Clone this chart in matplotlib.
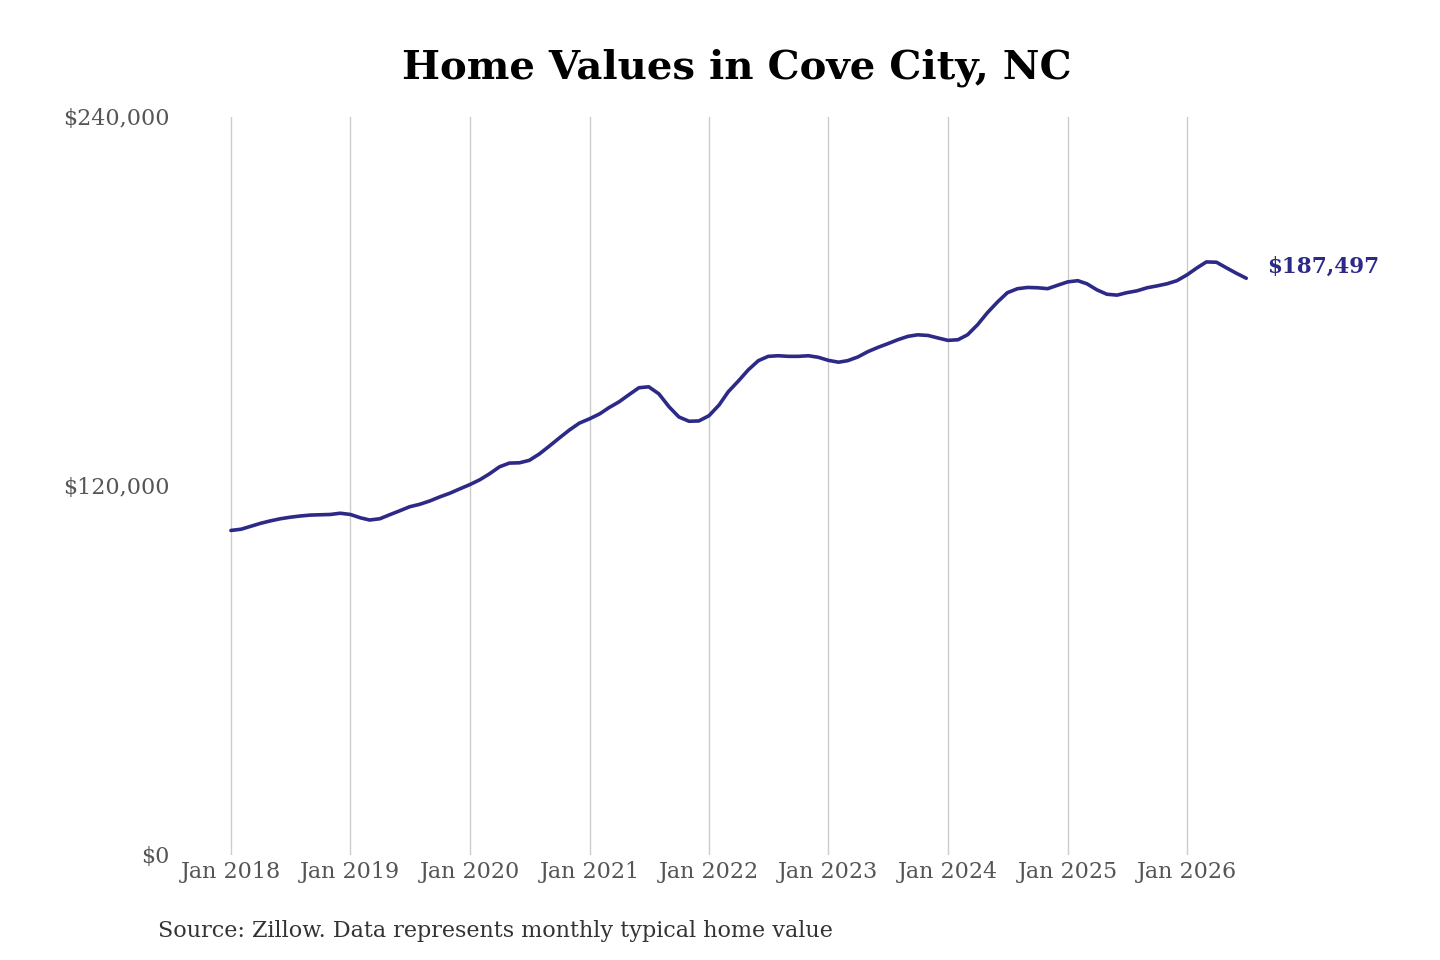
import matplotlib

matplotlib.use("Agg")

import matplotlib.dates as mdates
import matplotlib.pyplot as plt
import pandas as pd
from matplotlib.ticker import FuncFormatter

# monthly typical home value, Jan 2018 .. Jul 2026
home_values = [
    105500, 105900, 106800, 107800, 108600, 109300,
    109800, 110200, 110500, 110600, 110700, 111100,
    110700, 109600, 108900, 109300, 110600, 111900,
    113200, 114000, 115100, 116400, 117600, 119000,
    120400, 122000, 123900, 126200, 127400, 127500,
    128300, 130400, 133000, 135600, 138200, 140400,
    141800, 143400, 145400, 147300, 149600, 151900,
    152200, 149900, 145700, 142400, 141000, 141100,
    142800, 146300, 150600, 154100, 157700, 160700,
    162100, 162300, 162100, 162100, 162300, 161800,
    160800, 160200, 160700, 161900, 163600, 165000,
    166200, 167500, 168600, 169100, 168900, 168100,
    167300, 167500, 169100, 172400, 176300, 179800,
    182800, 184100, 184500, 184400, 184100, 185200,
    186300, 186700, 185700, 183700, 182300, 182000,
    182800, 183400, 184400, 185000, 185700, 186700,
    188600, 190900, 192800, 192700, 190900, 189100,
    187497,
]
months = pd.date_range("2018-01-01", periods=len(home_values), freq="MS")

y_ticks = [0, 120000, 240000]
title = "Home Values in Cove City, NC"
source_note = "Source: Zillow. Data represents monthly typical home value"

line_color = "#2d2a87"
label_color = "#555555"

plt.rcParams["font.family"] = ["DejaVu Serif"]

fig = plt.figure(figsize=(14.4, 9.6), dpi=100)
ax = fig.add_axes([0.1215, 0.1094, 0.7535, 0.769])

ax.plot(months, home_values, color=line_color, linewidth=2.6, solid_capstyle="round")

ax.set_xlim(pd.Timestamp("2017-07-14"), pd.Timestamp("2026-08-12"))
ax.set_ylim(0, 240000)

ax.xaxis.set_major_locator(mdates.YearLocator(month=1))
ax.xaxis.set_major_formatter(mdates.DateFormatter("Jan %Y"))
ax.set_yticks(y_ticks)
ax.yaxis.set_major_formatter(FuncFormatter(lambda v, _: f"${v:,.0f}"))

ax.tick_params(axis="both", length=0, labelsize=16, labelcolor=label_color)
ax.tick_params(axis="x", pad=4)
ax.tick_params(axis="y", pad=4)

ax.grid(axis="x", color="#cccccc", linewidth=1)
ax.grid(axis="y", visible=False)
for spine in ax.spines.values():
    spine.set_visible(False)

ax.annotate(
    f"${home_values[-1]:,}",
    xy=(months[-1], home_values[-1]),
    xytext=(15, 8),
    textcoords="offset points",
    ha="left",
    va="center",
    fontsize=15.5,
    fontweight="bold",
    color=line_color,
    annotation_clip=False,
)

fig.text(0.512, 0.929, title, ha="center", va="center", fontsize=29, fontweight="bold", color="black")
fig.text(0.1097, 0.030, source_note, ha="left", va="center", fontsize=16, color="#333333")

fig.savefig("out.png", dpi=100, facecolor="white")
